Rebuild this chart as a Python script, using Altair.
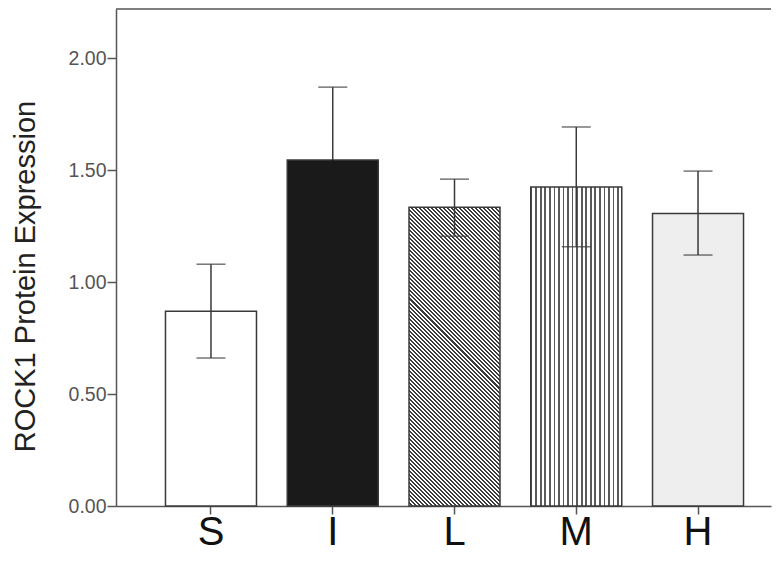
import altair as alt
import pandas as pd

# ---- data ----
groups = ["S", "I", "L", "M", "H"]
means = [0.870, 1.545, 1.335, 1.425, 1.307]
uppers = [1.080, 1.871, 1.460, 1.693, 1.496]
lowers = [0.661, 1.219, 1.205, 1.158, 1.121]
y_ticks = [0.0, 0.5, 1.0, 1.5, 2.0]

df = pd.DataFrame({"group": groups, "mean": means, "upper": uppers, "lower": lowers})

# ---- layout / style ----
W, H = 655, 497
YMAX = 2.22
PX = H / YMAX
FONT = "Liberation Sans"
AX = "#555555"
EDGE = "#3a3a3a"


def stripes(c_line, c_bg, n, frac, x1, y1, x2, y2):
    stops = []
    for k in range(n):
        a = k / n
        b = (k + frac) / n
        e = (k + 1) / n
        stops += [
            {"offset": a, "color": c_line},
            {"offset": b, "color": c_line},
            {"offset": b, "color": c_bg},
            {"offset": e, "color": c_bg},
        ]
    return {"gradient": "linear", "x1": x1, "y1": y1, "x2": x2, "y2": y2, "stops": stops}


def diag_fill(value, bar_w=91.0):
    h = value * PX
    a = -bar_w / h
    nrm = a * a + 1.0
    k = (1.0 - a) / nrm
    span = (h + bar_w) / 2 ** 0.5
    n = int(round(span / 2.85))
    return stripes("#3c3c3c", "#ffffff", n, 0.5, 1.0, 0.0, 1.0 + k * a, k)


fills = {
    "S": "#ffffff",
    "I": "#1a1a1a",
    "L": diag_fill(means[groups.index("L")]),
    "M": stripes("#5a5a5a", "#ffffff", 20, 0.38, 0, 0, 1, 0),
    "H": "#eeeeee",
}

xscale = alt.Scale(domain=groups, paddingInner=0.2526, paddingOuter=0.316, align=0.643)
yscale = alt.Scale(domain=[0, YMAX], nice=False, zero=True)

xaxis = alt.Axis(
    title=None, labelAngle=0, labelFont=FONT, labelFontSize=40, labelColor="#111111",
    tickSize=8, tickColor=AX, tickWidth=1.5, domainColor=AX, domainWidth=1.5,
    labelPadding=-2, grid=False,
)
yaxis = alt.Axis(
    values=y_ticks, format=".2f", labelFont=FONT, labelFontSize=19.5, labelColor=AX,
    tickSize=9, tickColor=AX, tickWidth=1.5, domainColor=AX, domainWidth=1.5,
    labelPadding=1, grid=False,
    title="ROCK1 Protein Expression", titleFont=FONT, titleFontSize=29,
    titleFontWeight="normal", titleColor="#222222", titleAngle=-90,
    titleX=-91, titleY=267, titleAlign="center", titleBaseline="middle",
)

base = alt.Chart(df)
xenc = alt.X("group:N", scale=xscale, sort=groups)

bars = []
for g in groups:
    bars.append(
        base.transform_filter(alt.datum.group == g)
        .mark_bar(fill=fills[g], stroke=EDGE, strokeWidth=1.5)
        .encode(
            x=alt.X("group:N", scale=xscale, axis=xaxis, sort=groups),
            y=alt.Y("mean:Q", scale=yscale, axis=yaxis),
        )
    )

rule_hi = base.mark_rule(color=EDGE, strokeWidth=1.5).encode(
    x=xenc, y="mean:Q", y2="upper:Q"
)
rule_lo = base.mark_rule(strokeWidth=1.5).encode(
    x=xenc, y="lower:Q", y2="mean:Q",
    color=alt.condition(alt.datum.group == "I", alt.value("#1a1a1a"), alt.value(EDGE)),
)
cap_hi = base.mark_tick(color=EDGE, size=29, thickness=1.5).encode(x=xenc, y="upper:Q")
cap_lo = base.mark_tick(size=29, thickness=1.5).encode(
    x=xenc, y="lower:Q",
    color=alt.condition(alt.datum.group == "I", alt.value("#1a1a1a"), alt.value(EDGE)),
)

frame_top = alt.Chart(pd.DataFrame({"k": [0]})).mark_rule(color=AX, strokeWidth=1.5).encode(
    x=alt.value(0), x2=alt.value(W), y=alt.value(0)
)

chart = (
    alt.layer(*bars, rule_hi, rule_lo, cap_hi, cap_lo, frame_top)
    .properties(
        width=W, height=H,
        autosize=alt.AutoSizeParams(type="none"),
        padding={"left": 108, "top": 1, "right": 4, "bottom": 55},
        background="white",
    )
    .configure_view(stroke=None)
)

chart.save("out.html", embed_options={"renderer": "svg", "actions": False})
